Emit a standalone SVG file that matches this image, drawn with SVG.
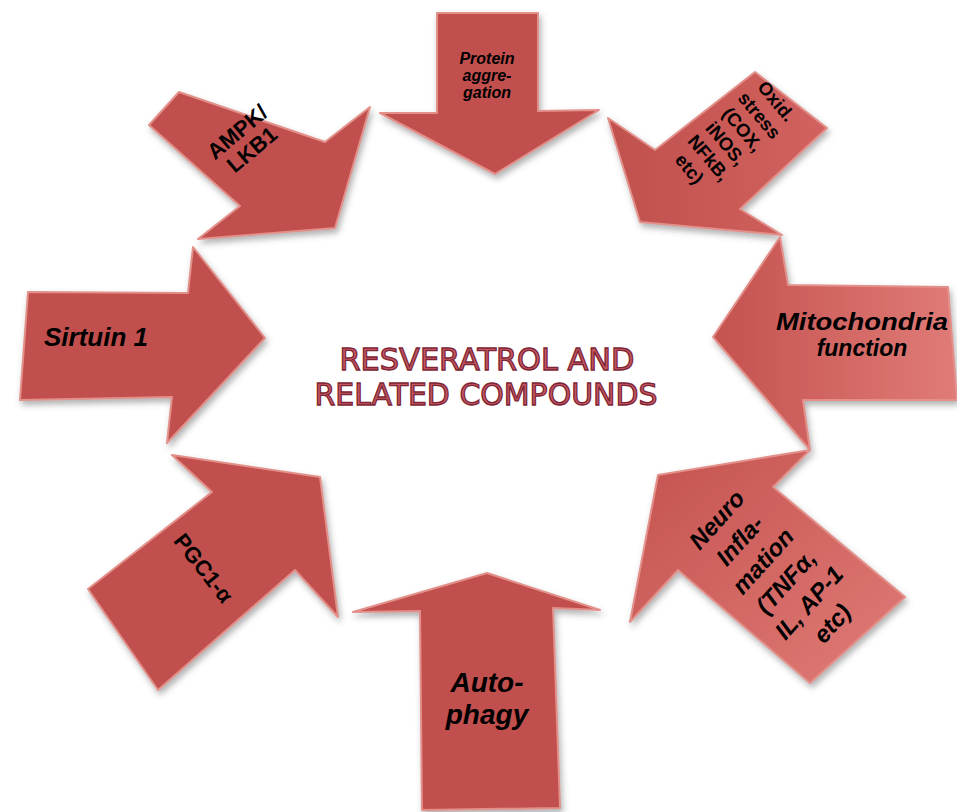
<svg xmlns="http://www.w3.org/2000/svg" width="957" height="812" viewBox="0 0 957 812">
<defs>
  <filter id="sh" x="-20%" y="-20%" width="140%" height="140%">
    <feDropShadow dx="2" dy="4" stdDeviation="3" flood-color="#555" flood-opacity="0.45"/>
  </filter>
  <linearGradient id="gLight" x1="0" y1="0" x2="1" y2="0">
    <stop offset="0" stop-color="#c4524f"/>
    <stop offset="1" stop-color="#e07b77"/>
  </linearGradient>
  <linearGradient id="gNeuro" x1="0" y1="0" x2="1" y2="1">
    <stop offset="0" stop-color="#c4524f"/>
    <stop offset="1" stop-color="#e07b77"/>
  </linearGradient>
  <linearGradient id="gOxid" x1="0" y1="0" x2="1" y2="0">
    <stop offset="0" stop-color="#c0504d"/>
    <stop offset="1" stop-color="#d2625f"/>
  </linearGradient>
  <style>
    .arr { fill: #c0504d; stroke: #e3908b; stroke-width: 2; stroke-linejoin: round; filter: url(#sh); }
    .lbl { font-family: "Liberation Sans", Arial, sans-serif; font-weight: bold; fill: #000; text-anchor: middle; }
    .it { font-style: italic; }
    .title { font-family: "DejaVu Sans", "Liberation Sans", sans-serif; font-size: 30px; fill: #c65862; stroke: #7d2535; stroke-width: 1.3; text-anchor: middle; }
  </style>
</defs>
<rect width="957" height="812" fill="#ffffff"/>

<g id="protein">
  <polygon class="arr" points="437,13 538,13 538,111 599,110 495,174 380,113 437,113"/>
  <text class="lbl it" font-size="16" x="487" y="64">Protein</text>
  <text class="lbl it" font-size="16" x="487" y="81">aggre-</text>
  <text class="lbl it" font-size="16" x="487" y="98">gation</text>
</g>

<g id="ampk">
  <polygon class="arr" points="149,125 179,92 325,142 370,107 335,228 198,239 240,206"/>
  <g transform="translate(244,140) rotate(-40)">
    <text class="lbl" font-size="22" x="0" y="-3">AMPK/</text>
    <text class="lbl" font-size="22" x="0" y="20">LKB1</text>
  </g>
</g>

<g id="oxid">
  <polygon class="arr" style="fill:url(#gOxid)" points="608,118 655,150 755,72 827,128 740,209 782,235 640,222"/>
  <g transform="translate(730,140) rotate(50)">
    <text class="lbl" font-size="18.5" x="0" y="-54">Oxid.</text>
    <text class="lbl" font-size="18.5" x="0" y="-32">stress</text>
    <text class="lbl" font-size="18.5" x="0" y="-10">(COX,</text>
    <text class="lbl" font-size="18.5" x="0" y="12">iNOS,</text>
    <text class="lbl" font-size="18.5" x="0" y="34">NFkB,</text>
    <text class="lbl" font-size="18.5" x="-4" y="56">etc)</text>
  </g>
</g>

<g id="sirtuin">
  <polygon class="arr" points="28,292 188,293 193,247 265,338 167,443 172,397 20,400"/>
  <text class="lbl it" font-size="26" x="96" y="346">Sirtuin 1</text>
</g>

<g id="mito">
  <polygon class="arr" style="fill:url(#gLight)" points="713,337 780,237 788,285 948,287 957,400 803,400 810,450"/>
  <text class="lbl it" font-size="23" x="862" y="330" textLength="172" lengthAdjust="spacingAndGlyphs">Mitochondria</text>
  <text class="lbl it" font-size="23" x="862" y="356">function</text>
</g>

<g id="pgc1">
  <polygon class="arr" points="88,589 212,492 172,455 320,477 338,617 295,570 158,690"/>
  <text class="lbl" font-size="22" transform="translate(204,568) rotate(52)" x="0" y="8">PGC1-α</text>
</g>

<g id="autophagy">
  <polygon class="arr" points="487,573 600,610 553,608 560,808 422,810 420,611 353,612"/>
  <text class="lbl it" font-size="28" x="487" y="692">Auto-</text>
  <text class="lbl it" font-size="28" x="487" y="724">phagy</text>
</g>

<g id="neuro">
  <polygon class="arr" style="fill:url(#gNeuro)" points="630,622 658,475 810,450 773,487 905,597 810,683 678,570"/>
  <g transform="translate(775,572) rotate(-48)">
    <text class="lbl it" font-size="24" x="0" y="-70">Neuro</text>
    <text class="lbl it" font-size="24" x="0" y="-39">Infla-</text>
    <text class="lbl it" font-size="24" x="0" y="-8">mation</text>
    <text class="lbl it" font-size="24" x="0" y="23">(TNFα,</text>
    <text class="lbl it" font-size="24" x="0" y="54">IL, AP-1</text>
    <text class="lbl it" font-size="24" x="0" y="85">etc)</text>
  </g>
</g>

<g id="title">
  <text class="title" x="487" y="370" textLength="295" lengthAdjust="spacingAndGlyphs">RESVERATROL AND</text>
  <text class="title" x="486" y="405" textLength="343" lengthAdjust="spacingAndGlyphs">RELATED COMPOUNDS</text>
</g>
</svg>
